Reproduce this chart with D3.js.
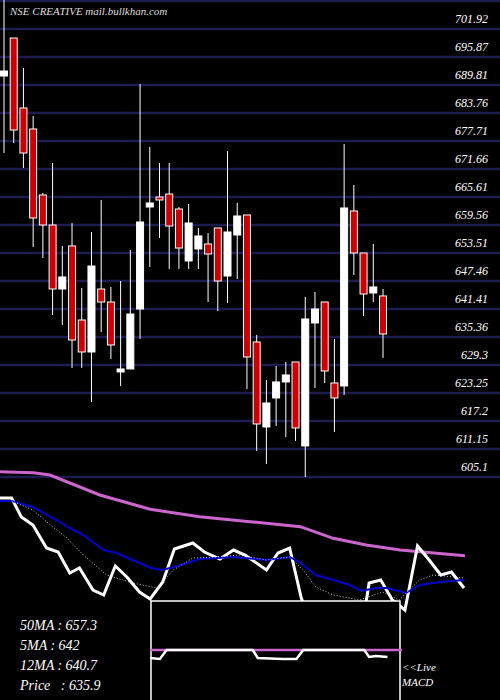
<!DOCTYPE html>
<html><head><meta charset="utf-8">
<script src="https://cdn.jsdelivr.net/npm/d3@7"></script>
<style>body{margin:0;background:#000}svg{display:block}</style>
</head><body><div id="chart"></div>
<script>
// price ticks on the right
const tickLabels = ["701.92","695.87","689.81","683.76","677.71","671.66","665.61","659.56","653.51","647.46","641.41","635.36","629.3","623.25","617.2","611.15","605.1"];

// daily candles, oldest first
const opens  = [691.76,699.97,684.85,680.31,666.05,659.56,645.73,655.03,639.03,632.12,645.73,642.92,627.80,628.45,641.41,663.45,665.61,666.26,663.02,651.79,654.38,655.46,658.92,648.54,657.40,661.73,634.28,615.91,622.18,625.64,629.96,611.81,638.39,642.92,625.42,624.77,662.59,653.51,644.87,644.22];
const highs  = [708.2,699.97,693.49,683.12,666.48,672.96,655.03,659.99,645.95,658.05,664.97,646.17,647.46,654.16,690.03,676.42,672.96,672.96,663.45,664.10,658.92,657.84,658.92,675.56,664.32,661.73,635.79,626.07,629.09,629.96,629.96,644.01,645.09,642.92,634.93,677.07,668.21,653.51,655.46,645.73];
const lows   = [675.12,677.28,671.88,654.81,652.43,640.11,637.96,628.66,628.66,621.31,636.44,630.61,624.77,628.45,634.93,650.49,656.76,650.06,650.06,650.06,650.06,642.92,640.98,642.71,647.90,624.12,610.73,607.92,616.13,613.75,612.89,605.10,624.34,625.42,614.83,622.83,648.76,639.90,642.92,630.83];
const closes = [692.84,680.09,675.12,661.08,659.56,645.73,648.33,634.71,632.12,650.70,642.92,633.63,628.45,640.33,660.21,664.32,664.97,659.34,654.59,660.00,657.19,653.30,647.46,658.05,661.51,631.04,616.56,621.10,625.64,627.15,615.70,639.25,641.41,628.01,622.18,663.24,653.51,644.65,646.17,636.01];

// lower indicator panel, [day, level] pairs (level in panel units)
const ma50Line = [[0,128.3],[3.44,127.3],[5.16,125],[10.3,105],[15.5,90.7],[20.6,83.3],[25.8,78.3],[31,73.3],[34.4,61.7],[37.8,55],[41.3,50],[48,44.3]];
const priceLine = [[0,102],[1.2,102],[2.2,83],[3.4,75],[4.8,52],[6,48],[7.2,27],[8.2,32],[9.6,10],[10.7,5],[11.9,34],[13.1,23],[14.4,8],[15.5,1],[16.8,18],[18,51],[19.9,57],[21.1,48],[22.7,41],[24.1,50],[25.3,45],[27.5,30],[28.7,47],[29.9,52],[31.1,2],[32,-20],[37.5,-20],[38.1,17],[39.3,20],[40.5,0],[41.8,-10],[43.1,54],[44.3,40],[45.5,25],[46.6,28],[47.9,12]];
const ma12Line = [[0,99],[1.2,99],[3.4,93],[5.8,80],[7.2,72],[8.6,65],[10.7,50],[12,47],[13.7,40],[15.6,32],[16.8,30],[18.6,35],[20.6,41],[24.1,43],[27.5,40],[29.9,43],[30.9,38],[32.6,25],[34.4,20],[36.1,15],[37.3,9],[38.8,12],[39.9,12],[41.9,7],[43.3,15],[45.4,18],[47.9,20]];
const ma5Line = [[1.2,99],[3.4,90],[5.2,75],[6.9,62],[8.6,45],[11,25],[13.7,17],[16.2,12],[17.9,30],[19.9,42],[22.3,43],[24.7,45],[27.5,40],[29.9,43],[31.3,30],[32.6,13],[34.4,5],[37.1,0],[39.5,8],[41.2,0],[43.3,20],[44.7,25],[47.9,22]];

// MACD inset
const macdSignal = [[15.5,10],[41.5,10]];
const macdLine = [[15.5,2],[16.5,1],[17.2,10],[26.1,10],[26.6,2],[29.2,1],[30.6,1],[31.3,10],[37.6,10],[38.1,3],[38.8,4],[40,3]];

const legendRows = ["50MA : 657.3","5MA : 642","12MA : 640.7","Price   : 635.9"];

const W = 500, H = 700;
const svg = d3.select("#chart").append("svg").attr("width", W).attr("height", H)
    .style("background", "#000");

const y = d3.scaleLinear().domain([701.92, 605.1]).range([29, 477]);
const x = d3.scaleLinear().domain([0, 39]).range([4, 383]);

// grid
const gridVals = [707.97].concat(tickLabels.map(Number));
svg.selectAll(".grid").data(gridVals).enter().append("line")
    .attr("x1", 0).attr("x2", W)
    .attr("y1", d => y(d)).attr("y2", d => y(d))
    .attr("stroke", "#1c1c50").attr("stroke-width", 2.5);

svg.selectAll(".tick").data(tickLabels).enter().append("text")
    .attr("x", 488).attr("y", d => y(+d) - 6)
    .attr("text-anchor", "end")
    .attr("fill", "#fff").attr("font-family", "Liberation Serif, serif")
    .attr("font-style", "italic").attr("font-size", 12)
    .text(d => d);

svg.append("text").attr("x", 10).attr("y", 15)
    .attr("fill", "#ddd").attr("font-family", "Liberation Serif, serif")
    .attr("font-style", "italic").attr("font-size", 11)
    .text("NSE CREATIVE mail.bullkhan.com");

// candles
const candles = svg.selectAll(".candle").data(opens.map((o, i) => ({
    o, h: highs[i], l: lows[i], c: closes[i], i
}))).enter().append("g");

candles.append("line")
    .attr("x1", d => x(d.i)).attr("x2", d => x(d.i))
    .attr("y1", d => y(d.h)).attr("y2", d => y(d.l))
    .attr("stroke", "#fff").attr("stroke-width", 1);

candles.append("rect")
    .attr("x", d => x(d.i) - 3.5).attr("width", 7)
    .attr("y", d => y(Math.max(d.o, d.c)))
    .attr("height", d => Math.max(2, Math.abs(y(d.o) - y(d.c))))
    .attr("fill", d => d.c >= d.o ? "#fff" : "#cc0000")
    .attr("stroke", "#fff").attr("stroke-width", 1);

// indicator panel
const ix = d3.scaleLinear().domain([0, 48]).range([0, 465]);
const iy = d3.scaleLinear().domain([0, 140]).range([600, 460]);
const line = d3.line().x(d => ix(d[0])).y(d => iy(d[1]));

svg.append("path").attr("d", line(ma50Line)).attr("fill", "none")
    .attr("stroke", "#cc66cc").attr("stroke-width", 3);
svg.append("path").attr("d", line(priceLine)).attr("fill", "none")
    .attr("stroke", "#fff").attr("stroke-width", 3);
svg.append("path").attr("d", line(ma12Line)).attr("fill", "none")
    .attr("stroke", "#0000cc").attr("stroke-width", 2);
svg.append("path").attr("d", line(ma5Line)).attr("fill", "none")
    .attr("stroke", "#fff").attr("stroke-width", 0.8).attr("stroke-dasharray", "1,2");

// MACD box
svg.append("rect").attr("x", 151).attr("y", 601).attr("width", 249).attr("height", 105)
    .attr("fill", "#000").attr("stroke", "#fff").attr("stroke-width", 1.5);
const my = d3.scaleLinear().domain([0, 10]).range([660, 650]);
const mline = d3.line().x(d => ix(d[0])).y(d => my(d[1]));
svg.append("path").attr("d", mline(macdSignal)).attr("fill", "none")
    .attr("stroke", "#cc66cc").attr("stroke-width", 2.5);
svg.append("path").attr("d", mline(macdLine)).attr("fill", "none")
    .attr("stroke", "#fff").attr("stroke-width", 2.5);

svg.selectAll(".legend").data(legendRows).enter().append("text")
    .attr("x", 20).attr("y", (d, i) => 630 + i * 20)
    .attr("fill", "#fff").attr("font-family", "Liberation Serif, serif")
    .attr("font-style", "italic").attr("font-size", 14)
    .attr("xml:space", "preserve").style("white-space", "pre")
    .text(d => d);

svg.selectAll(".live").data(["<<Live", "MACD"]).enter().append("text")
    .attr("x", 402).attr("y", (d, i) => 671 + i * 15)
    .attr("fill", "#fff").attr("font-family", "Liberation Serif, serif")
    .attr("font-style", "italic").attr("font-size", 11)
    .text(d => d);
</script></body></html>
